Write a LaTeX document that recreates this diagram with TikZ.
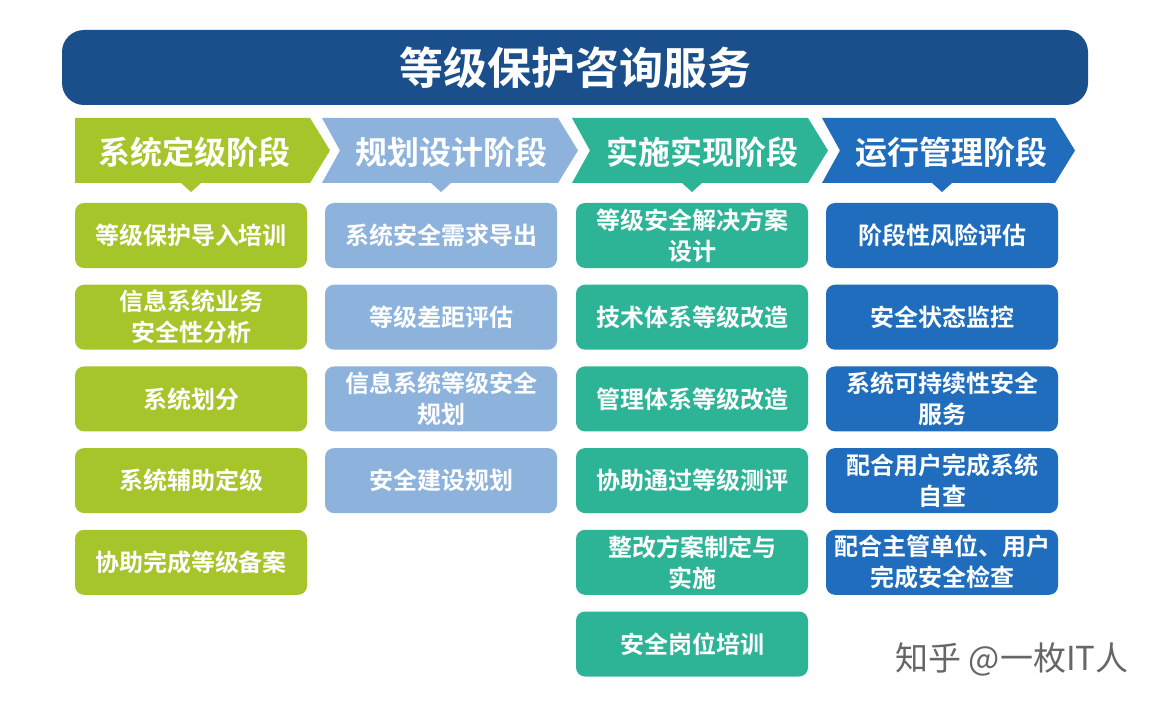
\documentclass[tikz,border=0pt]{standalone}
\usepackage{fontspec}
\setmainfont{Noto Sans CJK SC}
\newfontfamily\cjkb{Noto Sans CJK SC Bold}
\definecolor{cA}{HTML}{A6C52A}
\definecolor{cB}{HTML}{8DB3DD}
\definecolor{cC}{HTML}{2DB497}
\definecolor{cD}{HTML}{1F6DBC}
\definecolor{navy}{HTML}{1B4F8C}
\tikzset{
 box/.style={rounded corners=9pt, minimum width=232pt, minimum height=65pt, text=white, align=center, font=\cjkb\fontsize{24}{31}\selectfont, inner sep=0pt},
 hd/.style={text=white, font=\cjkb\fontsize{32}{36}\selectfont}
}
\begin{document}
\begin{tikzpicture}[x=1pt,y=-1pt]
\useasboundingbox (0,0) rectangle (1160,706);
\fill[white] (0,0) rectangle (1160,706);
\fill[navy, rounded corners=22pt] (62,30) rectangle (1088,105);
\node[text=white, font=\cjkb\fontsize{44}{48}\selectfont] (title) at (575,68) {等级保护咨询服务};
% headers
\fill[cA] (75,118) -- (310,118) -- (330,150.5) -- (310,183) -- (201,183) -- (191,192) -- (181,183) -- (75,183) -- cycle;
\fill[cB] (322,118) -- (558,118) -- (578,150.5) -- (558,183) -- (451,183) -- (441,192) -- (431,183) -- (322,183) -- (340,150.5) -- cycle;
\fill[cC] (572,118) -- (808,118) -- (828,150.5) -- (808,183) -- (702,183) -- (692,192) -- (682,183) -- (572,183) -- (590,150.5) -- cycle;
\fill[cD] (822,118) -- (1055,118) -- (1075,150.5) -- (1055,183) -- (952,183) -- (942,192) -- (932,183) -- (822,183) -- (840,150.5) -- cycle;
\node[hd] (h1) at (194,152) {系统定级阶段};
\node[hd] (h2) at (451,152) {规划设计阶段};
\node[hd] (h3) at (702,152) {实施实现阶段};
\node[hd] (h4) at (951,152) {运行管理阶段};
\foreach \t [count=\i] in {等级保护导入培训,{信息系统业务\\安全性分析},系统划分,系统辅助定级,协助完成等级备案}
  \node[box, fill=cA] (a\i) at (191,{235.5+81.7*(\i-1)}) {\t};
\foreach \t [count=\i] in {系统安全需求导出,等级差距评估,{信息系统等级安全\\规划},安全建设规划}
  \node[box, fill=cB] (b\i) at (441,{235.5+81.7*(\i-1)}) {\t};
\foreach \t [count=\i] in {{等级安全解决方案\\设计},技术体系等级改造,管理体系等级改造,协助通过等级测评,{整改方案制定与\\实施},安全岗位培训}
  \node[box, fill=cC] (c\i) at (692,{235.5+81.7*(\i-1)}) {\t};
\foreach \t [count=\i] in {阶段性风险评估,安全状态监控,{系统可持续性安全\\服务},{配合用户完成系统\\自查},{配合主管单位、用户\\完成安全检查}}
  \node[box, fill=cD] (d\i) at (942,{235.5+81.7*(\i-1)}) {\t};
\node[text=black!60, font=\fontsize{33}{36}\selectfont, anchor=east] (wm) at (1132,659) {知乎 @一枚IT人};
\end{tikzpicture}
\end{document}
